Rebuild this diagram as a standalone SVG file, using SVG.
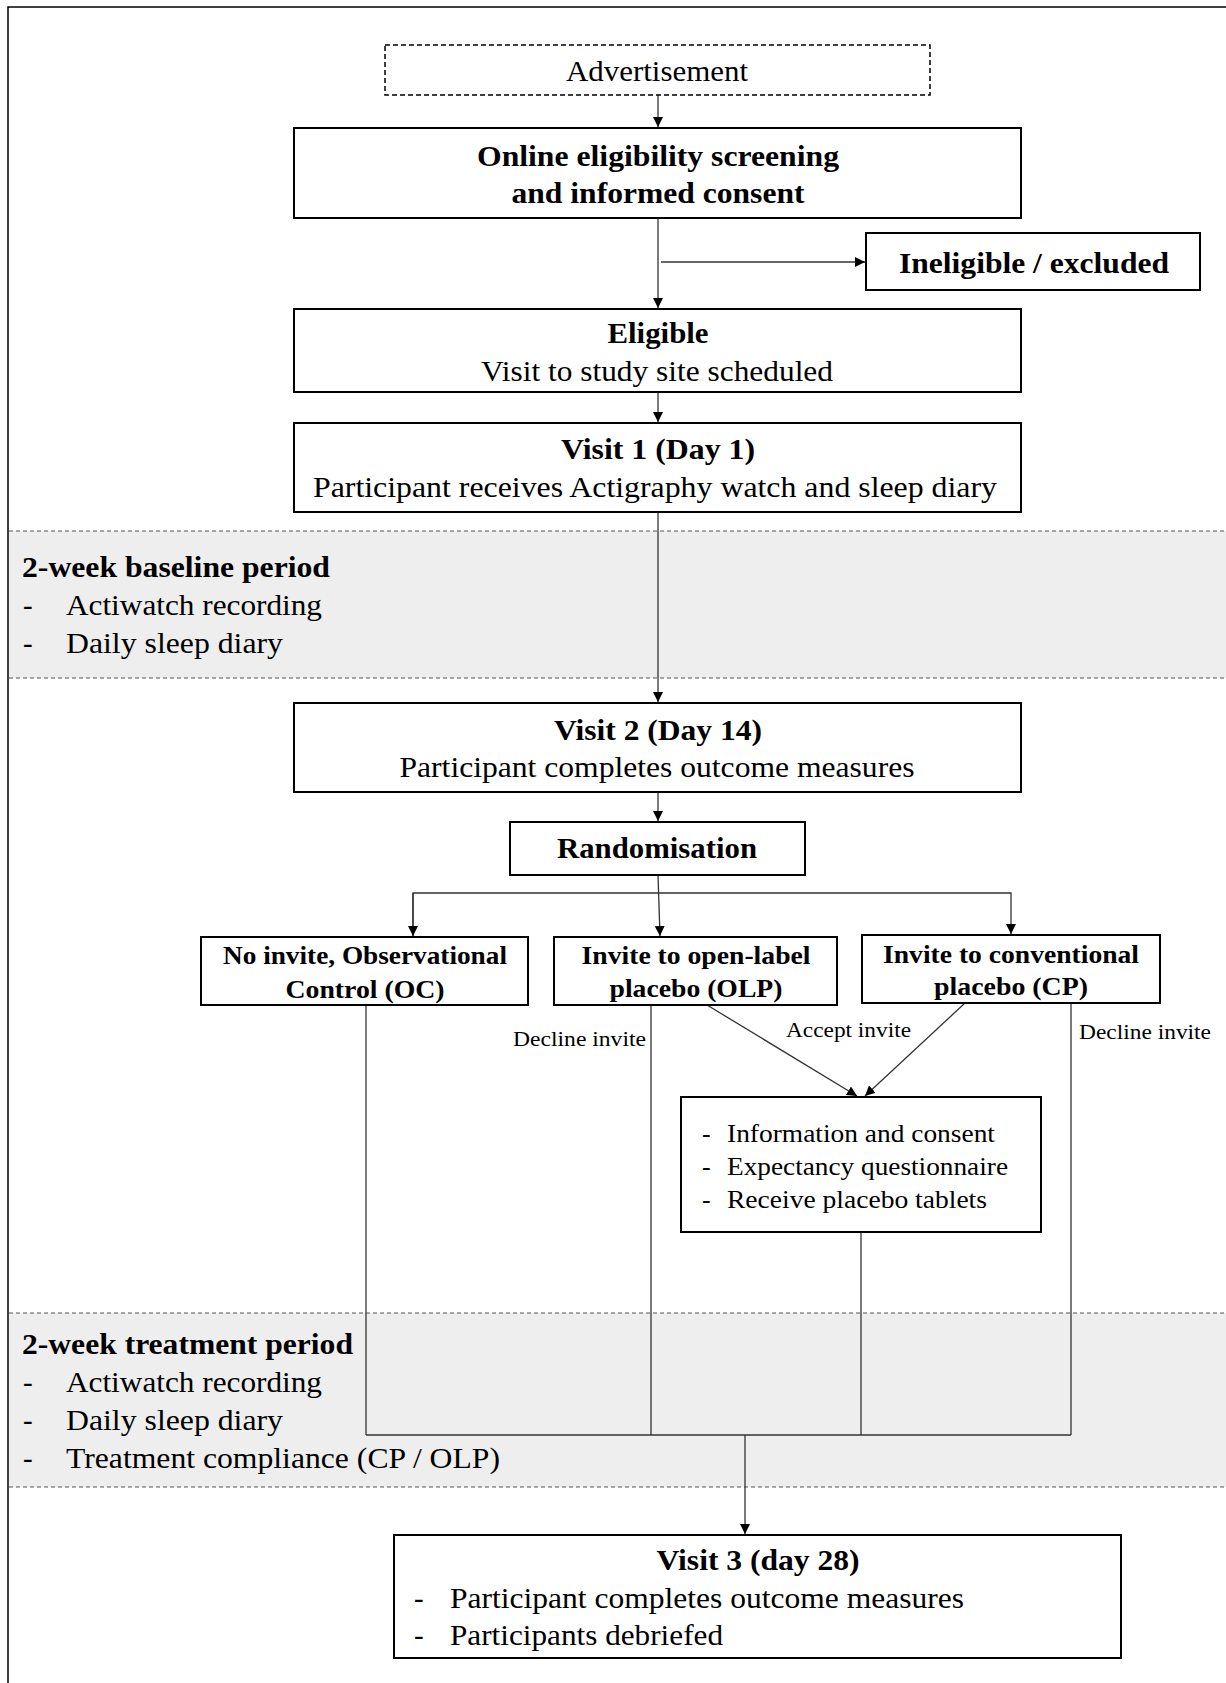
<svg xmlns="http://www.w3.org/2000/svg" width="1226" height="1683" viewBox="0 0 1226 1683">
<defs>
<style>
.t{font-family:"Liberation Serif","Times New Roman",serif;fill:#000}
.b{font-weight:bold}
.c{text-anchor:middle}
.box{fill:#fff;stroke:#000;stroke-width:2}
.ln{fill:none;stroke:#333;stroke-width:1.3}
.band{fill:#eeeeee}
.dash{stroke:#555;stroke-width:1.2;stroke-dasharray:4 3;fill:none}
</style>
<marker id="ah" viewBox="0 0 10 10" refX="10" refY="5" markerWidth="10" markerHeight="10" markerUnits="userSpaceOnUse" orient="auto">
<path d="M0,0 L10,5 L0,10 Z" fill="#000"/>
</marker>
</defs>
<rect x="0" y="0" width="1226" height="1683" fill="#fff"/>
<rect x="8" y="7" width="1240" height="1700" fill="none" stroke="#000" stroke-width="1.5"/>

<g id="baseline-band">
<rect class="band" x="9" y="531" width="1217" height="147"/>
<line class="dash" x1="9" y1="531" x2="1226" y2="531"/>
<line class="dash" x1="9" y1="678" x2="1226" y2="678"/>
<text class="t b" x="22" y="577" font-size="29" textLength="308" lengthAdjust="spacingAndGlyphs">2-week baseline period</text>
<text class="t" x="23" y="615" font-size="29">-</text>
<text class="t" x="66" y="615" font-size="29" textLength="256" lengthAdjust="spacingAndGlyphs">Actiwatch recording</text>
<text class="t" x="23" y="653" font-size="29">-</text>
<text class="t" x="66" y="653" font-size="29" textLength="217" lengthAdjust="spacingAndGlyphs">Daily sleep diary</text>
</g>

<g id="treatment-band">
<rect class="band" x="9" y="1313" width="1217" height="174"/>
<line class="dash" x1="9" y1="1313" x2="1226" y2="1313"/>
<line class="dash" x1="9" y1="1487" x2="1226" y2="1487"/>
<text class="t b" x="22" y="1354" font-size="29" textLength="331" lengthAdjust="spacingAndGlyphs">2-week treatment period</text>
<text class="t" x="23" y="1392" font-size="29">-</text>
<text class="t" x="66" y="1392" font-size="29" textLength="256" lengthAdjust="spacingAndGlyphs">Actiwatch recording</text>
<text class="t" x="23" y="1430" font-size="29">-</text>
<text class="t" x="66" y="1430" font-size="29" textLength="217" lengthAdjust="spacingAndGlyphs">Daily sleep diary</text>
<text class="t" x="23" y="1468" font-size="29">-</text>
<text class="t" x="66" y="1468" font-size="29" textLength="434" lengthAdjust="spacingAndGlyphs">Treatment compliance (CP / OLP)</text>
</g>

<g id="connectors">
<line class="ln" x1="658" y1="95" x2="658" y2="127" marker-end="url(#ah)"/>
<line class="ln" x1="658" y1="218" x2="658" y2="308" marker-end="url(#ah)"/>
<line class="ln" x1="661" y1="262" x2="865" y2="262" marker-end="url(#ah)"/>
<line class="ln" x1="658" y1="392" x2="658" y2="422" marker-end="url(#ah)"/>
<line class="ln" x1="658" y1="512" x2="658" y2="702" marker-end="url(#ah)"/>
<line class="ln" x1="658" y1="792" x2="658" y2="821" marker-end="url(#ah)"/>
<line class="ln" x1="658" y1="875" x2="660" y2="936" marker-end="url(#ah)"/>
<polyline class="ln" points="413,936 413,893 1011,893 1011,934" marker-end="url(#ah)"/>
<line class="ln" x1="413" y1="893" x2="413" y2="936" marker-end="url(#ah)"/>
<line class="ln" x1="707" y1="1005" x2="857" y2="1096" marker-end="url(#ah)"/>
<line class="ln" x1="965" y1="1003" x2="865" y2="1096" marker-end="url(#ah)"/>
<line class="ln" x1="366" y1="1005" x2="366" y2="1435"/>
<line class="ln" x1="651" y1="1005" x2="651" y2="1435"/>
<line class="ln" x1="861" y1="1232" x2="861" y2="1435"/>
<line class="ln" x1="1071" y1="1003" x2="1071" y2="1435"/>
<line class="ln" x1="366" y1="1435" x2="1071" y2="1435"/>
<line class="ln" x1="745" y1="1435" x2="745" y2="1534" marker-end="url(#ah)"/>
<text class="t" x="513" y="1046" font-size="22" textLength="133" lengthAdjust="spacingAndGlyphs">Decline invite</text>
<text class="t" x="786" y="1037" font-size="22" textLength="125" lengthAdjust="spacingAndGlyphs">Accept invite</text>
<text class="t" x="1079" y="1039" font-size="22" textLength="132" lengthAdjust="spacingAndGlyphs">Decline invite</text>
</g>

<g id="advertisement">
<rect x="385" y="45" width="545" height="50" fill="#fff" stroke="#000" stroke-width="1.5" stroke-dasharray="5 3"/>
<text class="t c" x="657" y="81" font-size="29" textLength="182" lengthAdjust="spacingAndGlyphs">Advertisement</text>
</g>

<g id="online-screening">
<rect class="box" x="294" y="128" width="727" height="90"/>
<text class="t b c" x="658" y="166" font-size="29" textLength="362" lengthAdjust="spacingAndGlyphs">Online eligibility screening</text>
<text class="t b c" x="658" y="203" font-size="29" textLength="293" lengthAdjust="spacingAndGlyphs">and informed consent</text>
</g>

<g id="ineligible">
<rect class="box" x="866" y="233" width="334" height="57"/>
<text class="t b c" x="1034" y="273" font-size="29" textLength="270" lengthAdjust="spacingAndGlyphs">Ineligible / excluded</text>
</g>

<g id="eligible">
<rect class="box" x="294" y="309" width="727" height="83"/>
<text class="t b c" x="658" y="343" font-size="29" textLength="101" lengthAdjust="spacingAndGlyphs">Eligible</text>
<text class="t c" x="657" y="381" font-size="29" textLength="352" lengthAdjust="spacingAndGlyphs">Visit to study site scheduled</text>
</g>

<g id="visit1">
<rect class="box" x="294" y="423" width="727" height="89"/>
<text class="t b c" x="658" y="459" font-size="29" textLength="194" lengthAdjust="spacingAndGlyphs">Visit 1 (Day 1)</text>
<text class="t c" x="655" y="497" font-size="29" textLength="684" lengthAdjust="spacingAndGlyphs">Participant receives Actigraphy watch and sleep diary</text>
</g>

<g id="visit2">
<rect class="box" x="294" y="703" width="727" height="89"/>
<text class="t b c" x="658" y="740" font-size="29" textLength="208" lengthAdjust="spacingAndGlyphs">Visit 2 (Day 14)</text>
<text class="t c" x="657" y="777" font-size="29" textLength="515" lengthAdjust="spacingAndGlyphs">Participant completes outcome measures</text>
</g>

<g id="randomisation">
<rect class="box" x="510" y="822" width="295" height="53"/>
<text class="t b c" x="657" y="858" font-size="29" textLength="200" lengthAdjust="spacingAndGlyphs">Randomisation</text>
</g>

<g id="oc">
<rect class="box" x="201" y="937" width="327" height="68"/>
<text class="t b c" x="365" y="964" font-size="26" textLength="284" lengthAdjust="spacingAndGlyphs">No invite, Observational</text>
<text class="t b c" x="365" y="998" font-size="26" textLength="159" lengthAdjust="spacingAndGlyphs">Control (OC)</text>
</g>

<g id="olp">
<rect class="box" x="554" y="937" width="283" height="68"/>
<text class="t b c" x="696" y="964" font-size="26" textLength="229" lengthAdjust="spacingAndGlyphs">Invite to open-label</text>
<text class="t b c" x="696" y="997" font-size="26" textLength="173" lengthAdjust="spacingAndGlyphs">placebo (OLP)</text>
</g>

<g id="cp">
<rect class="box" x="862" y="935" width="298" height="68"/>
<text class="t b c" x="1011" y="963" font-size="26" textLength="256" lengthAdjust="spacingAndGlyphs">Invite to conventional</text>
<text class="t b c" x="1011" y="995" font-size="26" textLength="154" lengthAdjust="spacingAndGlyphs">placebo (CP)</text>
</g>

<g id="info">
<rect class="box" x="681" y="1097" width="360" height="135"/>
<text class="t" x="702" y="1142" font-size="26">-</text>
<text class="t" x="727" y="1142" font-size="26" textLength="268" lengthAdjust="spacingAndGlyphs">Information and consent</text>
<text class="t" x="702" y="1175" font-size="26">-</text>
<text class="t" x="727" y="1175" font-size="26" textLength="281" lengthAdjust="spacingAndGlyphs">Expectancy questionnaire</text>
<text class="t" x="702" y="1208" font-size="26">-</text>
<text class="t" x="727" y="1208" font-size="26" textLength="260" lengthAdjust="spacingAndGlyphs">Receive placebo tablets</text>
</g>

<g id="visit3">
<rect class="box" x="394" y="1535" width="727" height="123"/>
<text class="t b c" x="758" y="1570" font-size="29" textLength="203" lengthAdjust="spacingAndGlyphs">Visit 3 (day 28)</text>
<text class="t" x="414" y="1608" font-size="29">-</text>
<text class="t" x="450" y="1608" font-size="29" textLength="514" lengthAdjust="spacingAndGlyphs">Participant completes outcome measures</text>
<text class="t" x="414" y="1645" font-size="29">-</text>
<text class="t" x="450" y="1645" font-size="29" textLength="273" lengthAdjust="spacingAndGlyphs">Participants debriefed</text>
</g>
</svg>
